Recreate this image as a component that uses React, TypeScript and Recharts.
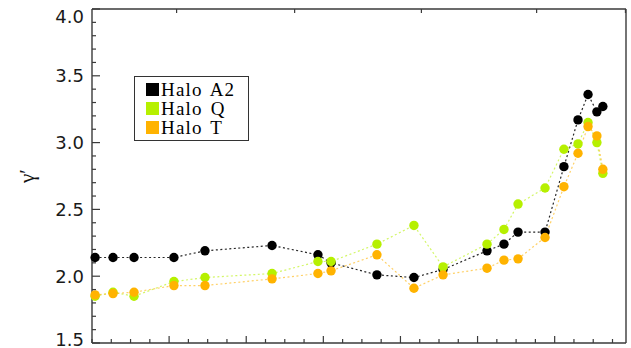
import { LineChart, Line, XAxis, YAxis, Legend } from "recharts"

// shared abscissa of the three halo profiles
const xPos = [0.16, 1.09, 2.18, 4.25, 5.86, 9.34, 11.72, 12.4, 14.78, 16.7, 18.21, 20.49, 21.37, 22.1, 23.5, 24.48, 25.21, 25.73, 26.19, 26.5]

const haloA2 = [2.14, 2.14, 2.14, 2.14, 2.19, 2.23, 2.16, 2.1, 2.01, 1.99, 2.05, 2.19, 2.24, 2.33, 2.33, 2.82, 3.17, 3.36, 3.23, 3.27]
const haloQ = [1.85, 1.88, 1.85, 1.96, 1.99, 2.02, 2.11, 2.11, 2.24, 2.38, 2.07, 2.24, 2.35, 2.54, 2.66, 2.95, 2.99, 3.15, 3.0, 2.77]
const haloT = [1.86, 1.87, 1.88, 1.93, 1.93, 1.98, 2.02, 2.04, 2.16, 1.91, 2.01, 2.06, 2.12, 2.13, 2.29, 2.67, 2.92, 3.12, 3.05, 2.8]

const yTicks = [1.5, 1.6, 1.7, 1.8, 1.9, 2.0, 2.1, 2.2, 2.3, 2.4, 2.5, 2.6, 2.7, 2.8, 2.9, 3.0, 3.1, 3.2, 3.3, 3.4, 3.5, 3.6, 3.7, 3.8, 3.9, 4.0]
const yLabels = ["1.5", "2.0", "2.5", "3.0", "3.5", "4.0"]
const bottomTicks = [0, 1, 2, 3, 4, 5, 6, 7, 8, 9, 10, 11, 12, 13, 14, 15, 16, 17, 18, 19, 20, 21, 22, 23, 24, 25, 26, 27]
const topTicks = [3.01, 7.21, 11.72, 15.82, 18.98, 20.95, 23.24, 24.43, 25.62]

const series = [
  { key: "a2", name: "Halo A2", color: "#000000", values: haloA2 },
  { key: "q", name: "Halo Q", color: "#b6f000", values: haloQ },
  { key: "t", name: "Halo T", color: "#ffb300", values: haloT },
]

const data = xPos.map((x, i) => ({ x, a2: haloA2[i], q: haloQ[i], t: haloT[i] }))

const AXIS = "#3a3a3a"

const isMajorY = (v: number) => yLabels.includes(v.toFixed(1))

const LeftTick = ({ x, y, payload }: any) => {
  const major = isMajorY(payload.value)
  // keep the end labels inside the canvas
  const ly = Math.min(Math.max(y, 16.5), 339)
  return (
    <g>
      <line x1={x} x2={x + (major ? 8 : 4)} y1={y} y2={y} stroke={AXIS} strokeWidth={1.2} />
      {major && (
        <text x={x - 8} y={ly + 6.5} textAnchor="end" fontFamily="DejaVu Sans" fontSize={18} fill="#1a1a1a">
          {payload.value.toFixed(1)}
        </text>
      )}
    </g>
  )
}

const RightTick = ({ x, y, payload }: any) => {
  const major = isMajorY(payload.value)
  return <line x1={x} x2={x - (major ? 8 : 4)} y1={y} y2={y} stroke={AXIS} strokeWidth={1.2} />
}

const BottomTick = ({ x, y, payload }: any) => {
  const major = payload.value > 0 && payload.value % 4 === 0
  return <line x1={x} x2={x} y1={y} y2={y - (major ? 7 : 4)} stroke={AXIS} strokeWidth={1.2} />
}

const TopTick = ({ x, y }: any) => <line x1={x} x2={x} y1={y} y2={y + 4} stroke={AXIS} strokeWidth={1.2} />

const LegendBox = () => (
  <div
    style={{
      border: "1px solid #333",
      background: "#fff",
      width: 102,
      padding: "3px 0 3px 11px",
      boxSizing: "content-box",
    }}
  >
    {series.map((s) => (
      <div key={s.key} style={{ display: "flex", alignItems: "center", height: 19 }}>
        <span style={{ width: 13, height: 13, background: s.color, marginRight: 2, flexShrink: 0 }} />
        <span
          style={{
            fontFamily: "Liberation Serif",
            fontSize: 19,
            letterSpacing: 1.2,
            wordSpacing: 2,
            whiteSpace: "nowrap",
            color: "#000",
            lineHeight: "19px",
          }}
        >
          {s.name}
        </span>
      </div>
    ))}
  </div>
)

export default function App() {
  return (
    <div style={{ position: "absolute", left: 0, top: 0, background: "#fff" }}>
      <LineChart width={631} height={348} data={data} margin={{ top: 0, right: 0, bottom: 0, left: 0 }}>
        <XAxis
          xAxisId="bottom"
          dataKey="x"
          type="number"
          domain={[0, 27.7]}
          ticks={bottomTicks}
          interval={0}
          height={5}
          tickSize={0}
          tickMargin={0}
          tickLine={false}
          tick={<BottomTick />}
          axisLine={{ stroke: AXIS, strokeWidth: 1.4 }}
        />
        <XAxis
          xAxisId="top"
          orientation="top"
          type="number"
          domain={[0, 27.7]}
          ticks={topTicks}
          interval={0}
          height={9}
          tickSize={0}
          tickMargin={0}
          tickLine={false}
          tick={<TopTick />}
          axisLine={{ stroke: AXIS, strokeWidth: 1.4 }}
        />
        <YAxis
          yAxisId="left"
          type="number"
          domain={[1.5, 4]}
          ticks={yTicks}
          interval={0}
          width={92}
          tickSize={0}
          tickMargin={0}
          tickLine={false}
          tick={<LeftTick />}
          axisLine={{ stroke: AXIS, strokeWidth: 1.4 }}
          label={({ viewBox }: any) => (
            <text
              x={34}
              y={viewBox.y + viewBox.height / 2}
              transform={`rotate(-90, 34, ${viewBox.y + viewBox.height / 2})`}
              textAnchor="middle"
              fontFamily="Liberation Serif"
              fontSize={21}
              fill="#111"
            >
              γ′
            </text>
          )}
        />
        <YAxis
          yAxisId="right"
          orientation="right"
          type="number"
          domain={[1.5, 4]}
          ticks={yTicks}
          interval={0}
          width={5}
          tickSize={0}
          tickMargin={0}
          tickLine={false}
          tick={<RightTick />}
          axisLine={{ stroke: AXIS, strokeWidth: 1.4 }}
        />
        <Legend
          layout="vertical"
          align="center"
          verticalAlign="middle"
          wrapperStyle={{ left: 134, top: 76, width: "auto" }}
          content={<LegendBox />}
        />
        {series.map((s) => (
          <Line
            key={s.key}
            xAxisId="bottom"
            yAxisId="left"
            dataKey={s.key}
            name={s.name}
            type="linear"
            stroke={s.color}
            strokeOpacity={s.key === "a2" ? 0.85 : 0.6}
            strokeWidth={1.2}
            strokeDasharray="2 2.5"
            dot={{ r: 4.7, fill: s.color, stroke: "none", fillOpacity: 1 }}
            activeDot={false}
            isAnimationActive={false}
          />
        ))}
      </LineChart>
    </div>
  )
}
